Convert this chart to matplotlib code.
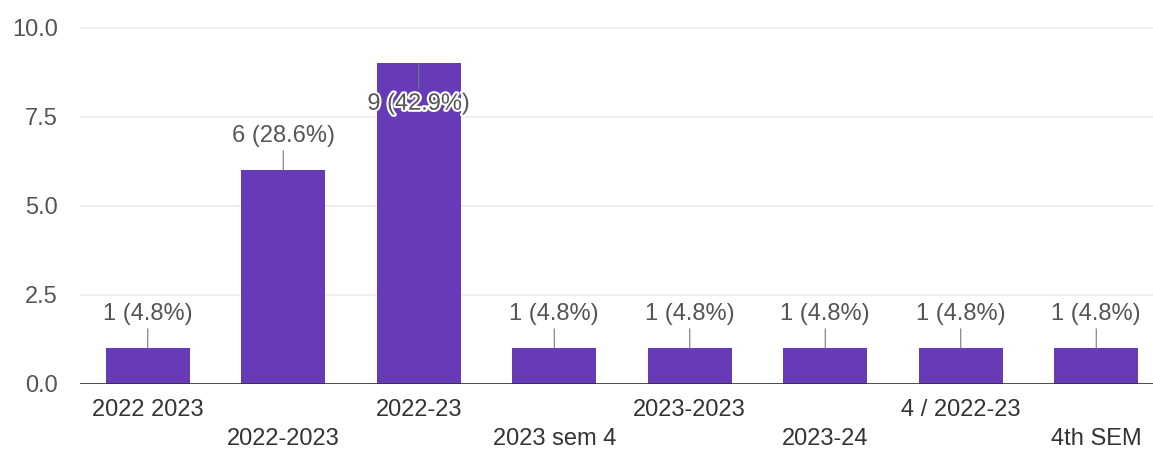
import matplotlib.pyplot as plt
from matplotlib import patheffects

plt.rcParams['font.family'] = ['Liberation Sans', 'DejaVu Sans']

categorias = ['2022 2023', '2022-2023', '2022-23', '2023 sem 4',
              '2023-2023', '2023-24', '4 / 2022-23', '4th SEM']
respuestas = [1, 6, 9, 1, 1, 1, 1, 1]
porcentajes = [4.8, 28.6, 42.9, 4.8, 4.8, 4.8, 4.8, 4.8]
ticks_y = [0, 2.5, 5, 7.5, 10]

MORADO = '#673ab7'
GRIS = '#555555'


def main():
    figure = plt.figure(figsize=(11.53, 4.55), dpi=100)
    axes = figure.add_axes([80 / 1153, 71 / 455, 1084 / 1153, 359 / 455])

    posiciones = range(len(categorias))
    axes.bar(posiciones, respuestas, width=0.62, color=MORADO, zorder=3)

    axes.set_xlim(-0.5, len(categorias) - 0.5)
    axes.set_ylim(0, 10.08)
    axes.set_yticks(ticks_y)
    axes.set_yticklabels([f'{t:.1f}' for t in ticks_y])
    axes.grid(axis='y', color='#ececec', linewidth=1.2, zorder=0)
    axes.axhline(0, color='#333333', linewidth=1.2, zorder=4)

    for lado in ['left', 'right', 'top', 'bottom']:
        axes.spines[lado].set_visible(False)

    axes.tick_params(axis='y', length=0, labelsize=17, labelcolor=GRIS, pad=16)
    axes.tick_params(axis='x', length=0, labelsize=17, labelcolor='#333333')
    axes.set_xticks(list(posiciones))
    axes.set_xticklabels(categorias)
    for i, tick in enumerate(axes.xaxis.get_major_ticks()):
        tick.set_pad(11 if i % 2 == 0 else 32)

    maximo = max(respuestas)
    for i, (valor, pct) in enumerate(zip(respuestas, porcentajes)):
        desplazamiento = -29 if valor == maximo else 25
        texto = axes.annotate(
            f'{valor} ({pct}%)',
            xy=(i, valor),
            xytext=(0, desplazamiento),
            textcoords='offset points',
            ha='center', va='center',
            fontsize=17, color=GRIS, zorder=5,
            arrowprops=dict(arrowstyle='-', color='#777777', lw=0.8,
                            shrinkA=1, shrinkB=0),
        )
        if valor == maximo:
            texto.set_path_effects([patheffects.withStroke(linewidth=3, foreground='white')])

    figure.savefig('out.png', dpi=100)


if __name__ == '__main__':
    main()
